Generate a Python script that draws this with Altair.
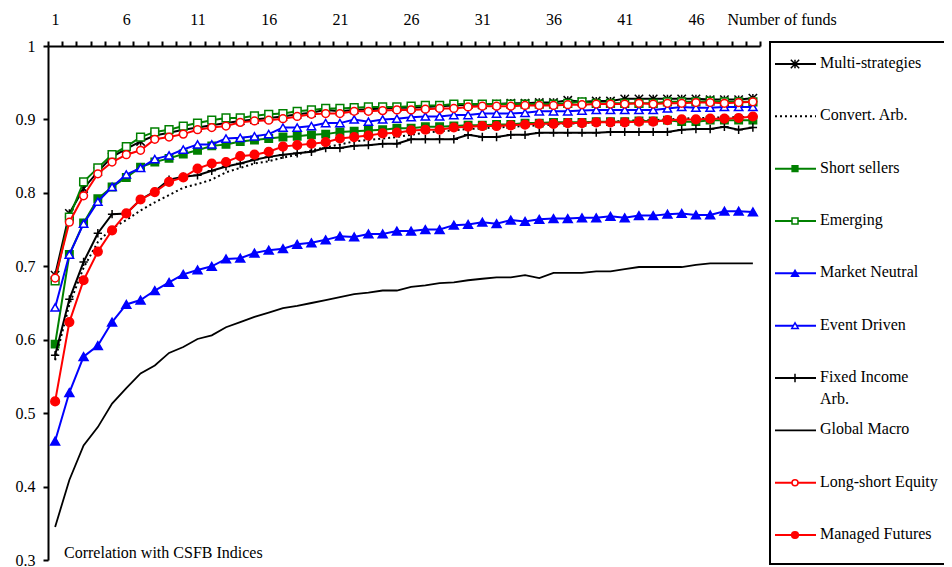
import altair as alt
import pandas as pd

funds = list(range(1, 51))

multi = [0.688, 0.772, 0.806, 0.829, 0.849, 0.860, 0.870, 0.878, 0.882, 0.886,
         0.889, 0.892, 0.895, 0.898, 0.900, 0.902, 0.904, 0.907, 0.909, 0.913,
         0.911, 0.913, 0.914, 0.915, 0.916, 0.916, 0.917, 0.918, 0.919, 0.920,
         0.920, 0.921, 0.922, 0.922, 0.923, 0.923, 0.926, 0.924, 0.925, 0.925,
         0.928, 0.928, 0.928, 0.928, 0.928, 0.928, 0.927, 0.927, 0.927, 0.929]
convert = [0.572, 0.648, 0.698, 0.733, 0.752, 0.763, 0.776, 0.787, 0.797, 0.807,
           0.812, 0.818, 0.828, 0.834, 0.840, 0.843, 0.848, 0.852, 0.858, 0.862,
           0.866, 0.870, 0.872, 0.874, 0.876, 0.879, 0.882, 0.884, 0.885, 0.887,
           0.888, 0.889, 0.890, 0.891, 0.892, 0.893, 0.894, 0.895, 0.896, 0.897,
           0.898, 0.899, 0.899, 0.900, 0.901, 0.902, 0.902, 0.903, 0.903, 0.904]
short_sellers = [0.594, 0.716, 0.759, 0.792, 0.808, 0.821, 0.835, 0.842, 0.847, 0.853,
                 0.858, 0.864, 0.866, 0.870, 0.872, 0.874, 0.876, 0.877, 0.879, 0.880,
                 0.883, 0.884, 0.885, 0.886, 0.888, 0.888, 0.890, 0.890, 0.891, 0.892,
                 0.892, 0.893, 0.893, 0.895, 0.895, 0.896, 0.896, 0.896, 0.897, 0.897,
                 0.897, 0.898, 0.898, 0.899, 0.897, 0.897, 0.899, 0.899, 0.899, 0.899]
emerging = [0.680, 0.767, 0.815, 0.834, 0.852, 0.863, 0.876, 0.883, 0.886, 0.891,
            0.895, 0.899, 0.902, 0.902, 0.905, 0.907, 0.908, 0.911, 0.913, 0.915,
            0.915, 0.916, 0.917, 0.917, 0.917, 0.918, 0.919, 0.919, 0.921, 0.921,
            0.921, 0.921, 0.921, 0.921, 0.921, 0.921, 0.922, 0.924, 0.922, 0.922,
            0.922, 0.922, 0.922, 0.924, 0.924, 0.924, 0.925, 0.924, 0.924, 0.924]
market_neutral = [0.462, 0.528, 0.577, 0.592, 0.624, 0.648, 0.654, 0.667, 0.678, 0.689,
                  0.695, 0.700, 0.710, 0.711, 0.718, 0.722, 0.724, 0.730, 0.732, 0.736,
                  0.741, 0.740, 0.744, 0.744, 0.748, 0.748, 0.750, 0.750, 0.756, 0.757,
                  0.760, 0.758, 0.763, 0.761, 0.764, 0.765, 0.765, 0.766, 0.766, 0.768,
                  0.766, 0.769, 0.769, 0.771, 0.772, 0.770, 0.770, 0.775, 0.775, 0.774]
event_driven = [0.644, 0.716, 0.758, 0.788, 0.808, 0.825, 0.834, 0.846, 0.851, 0.859,
                0.866, 0.866, 0.874, 0.875, 0.877, 0.880, 0.889, 0.889, 0.891, 0.895,
                0.895, 0.900, 0.897, 0.900, 0.901, 0.903, 0.904, 0.904, 0.906, 0.906,
                0.908, 0.908, 0.908, 0.909, 0.911, 0.911, 0.911, 0.912, 0.913, 0.913,
                0.913, 0.913, 0.913, 0.915, 0.917, 0.916, 0.916, 0.917, 0.917, 0.917]
fixed_income = [0.579, 0.655, 0.706, 0.745, 0.771, 0.772, 0.791, 0.802, 0.818, 0.822,
                0.824, 0.830, 0.836, 0.840, 0.845, 0.849, 0.852, 0.854, 0.856, 0.861,
                0.861, 0.864, 0.865, 0.867, 0.867, 0.873, 0.873, 0.873, 0.873, 0.879,
                0.876, 0.876, 0.879, 0.879, 0.882, 0.882, 0.882, 0.882, 0.882, 0.883,
                0.883, 0.883, 0.883, 0.883, 0.886, 0.887, 0.887, 0.890, 0.886, 0.889]
global_macro = [0.345, 0.409, 0.456, 0.481, 0.513, 0.534, 0.554, 0.565, 0.582, 0.590,
                0.601, 0.606, 0.617, 0.624, 0.631, 0.637, 0.643, 0.646, 0.650, 0.654,
                0.658, 0.662, 0.664, 0.667, 0.667, 0.672, 0.674, 0.677, 0.678, 0.681,
                0.683, 0.685, 0.685, 0.688, 0.684, 0.691, 0.691, 0.691, 0.693, 0.693,
                0.696, 0.699, 0.699, 0.699, 0.699, 0.702, 0.704, 0.704, 0.704, 0.704]
long_short = [0.684, 0.760, 0.796, 0.826, 0.842, 0.852, 0.858, 0.873, 0.876, 0.880,
              0.886, 0.889, 0.891, 0.896, 0.898, 0.899, 0.901, 0.904, 0.907, 0.908,
              0.908, 0.911, 0.911, 0.912, 0.913, 0.913, 0.914, 0.915, 0.915, 0.917,
              0.918, 0.918, 0.918, 0.919, 0.919, 0.919, 0.920, 0.920, 0.921, 0.921,
              0.921, 0.922, 0.921, 0.922, 0.922, 0.923, 0.923, 0.922, 0.923, 0.924]
managed_futures = [0.516, 0.624, 0.681, 0.720, 0.749, 0.772, 0.791, 0.801, 0.815, 0.821,
                   0.833, 0.840, 0.842, 0.850, 0.852, 0.856, 0.863, 0.865, 0.867, 0.869,
                   0.874, 0.876, 0.878, 0.881, 0.882, 0.885, 0.886, 0.886, 0.889, 0.890,
                   0.891, 0.891, 0.892, 0.893, 0.894, 0.894, 0.895, 0.895, 0.896, 0.896,
                   0.896, 0.897, 0.897, 0.899, 0.900, 0.900, 0.901, 0.901, 0.902, 0.904]

series_names = ["Multi-strategies", "Convert. Arb.", "Short sellers", "Emerging",
                "Market Neutral", "Event Driven", "Fixed Income Arb.", "Global Macro",
                "Long-short Equity", "Managed Futures"]
legend_labels = ["Multi-strategies", "Convert. Arb.", "Short sellers", "Emerging",
                 "Market Neutral", "Event Driven", "Fixed Income\nArb.", "Global Macro",
                 "Long-short Equity", "Managed Futures"]
series_values = [multi, convert, short_sellers, emerging, market_neutral, event_driven,
                 fixed_income, global_macro, long_short, managed_futures]
y_ticks = [0.3, 0.4, 0.5, 0.6, 0.7, 0.8, 0.9, 1.0]
x_ticks = [k - 0.5 for k in range(1, 52)]

ASTER = "M-1,-1L1,1M-1,1L1,-1M0,-1L0,1"
PLUS = "M-1,0L1,0M0,-1L0,1"
GREEN = "#008000"
BLUE = "#0000ff"
RED = "#ff0000"
BLACK = "#000000"

# styles per series: colour, line width, dash, marker shape, marker fill, marker size
styles = [
    dict(color=BLACK, width=2, dash=None, shape=ASTER, fill=None, size=70),
    dict(color=BLACK, width=2, dash=[2, 3], shape=None, fill=None, size=0),
    dict(color=GREEN, width=2, dash=None, shape="square", fill=GREEN, size=55),
    dict(color=GREEN, width=2, dash=None, shape="square", fill="white", size=60),
    dict(color=BLUE, width=2, dash=None, shape="triangle-up", fill=BLUE, size=80),
    dict(color=BLUE, width=2, dash=None, shape="triangle-up", fill="white", size=70),
    dict(color=BLACK, width=2, dash=None, shape=PLUS, fill=None, size=70),
    dict(color=BLACK, width=1.8, dash=None, shape=None, fill=None, size=0),
    dict(color=RED, width=2, dash=None, shape="circle", fill="white", size=60),
    dict(color=RED, width=2, dash=None, shape="circle", fill=RED, size=75),
]

FONT = "Liberation Serif"

x_scale = alt.Scale(domain=[0.5, 50.5], nice=False, zero=False)
y_scale = alt.Scale(domain=[0.3, 1.0], nice=False, zero=False)

x_axis = alt.Axis(orient="top", values=x_ticks, grid=False, ticks=True,
                  labelExpr="((datum.value - 0.5) % 5 == 0 && datum.value < 46) ? toString(datum.value + 0.5) : ''",
                  labelOffset=7.12, labelOverlap=False, labelFlush=False,
                  labelPadding=14, tickSize=5, tickWidth=2, domainWidth=2,
                  domainColor=BLACK, tickColor=BLACK,
                  title="Number of funds", titleX=679, titleY=-27, titleAlign="left",
                  titleBaseline="middle", titleAnchor="start")
y_axis = alt.Axis(values=y_ticks, grid=False, format="~g", tickSize=5, tickWidth=2,
                  domainWidth=2, domainColor=BLACK, tickColor=BLACK, labelPadding=8,
                  title=None, labelFlush=False, labelOverlap=False)

main_layers = []
for name, vals, st in zip(series_names, series_values, styles):
    df = pd.DataFrame({"funds": funds, "corr": vals, "series": name})
    base = alt.Chart(df).encode(
        x=alt.X("funds:Q", scale=x_scale, axis=x_axis),
        y=alt.Y("corr:Q", scale=y_scale, axis=y_axis),
    )
    line_kw = dict(color=st["color"], strokeWidth=st["width"])
    if st["dash"]:
        line_kw["strokeDash"] = st["dash"]
    main_layers.append(base.mark_line(**line_kw))
    if st["shape"]:
        if st["fill"] is None:
            pt = base.mark_point(shape=st["shape"], filled=False, stroke=st["color"],
                                 strokeWidth=1.5, size=st["size"], opacity=1)
        else:
            pt = base.mark_point(shape=st["shape"], filled=True, fill=st["fill"],
                                 stroke=st["color"], strokeWidth=1.5, size=st["size"],
                                 opacity=1)
        main_layers.append(pt)

# legend drawn as marks
leg_y = alt.Scale(domain=[0, 9], range=[18, 489])
one = pd.DataFrame({"a": [0]})
legend_layers = [
    alt.Chart(one).mark_rect(fillOpacity=0, stroke=BLACK, strokeWidth=2).encode(
        x=alt.value(722), x2=alt.value(960), y=alt.value(-4), y2=alt.value(518)),
    alt.Chart(one).mark_text(font=FONT, fontSize=16, align="left", baseline="middle",
                             color=BLACK).encode(
        x=alt.value(16), y=alt.value(507), text=alt.value("Correlation with CSFB Indices")),
]
for i, (lab, st) in enumerate(zip(legend_labels, styles)):
    ldf = pd.DataFrame({"pos": [i], "label": [lab]})
    lb = alt.Chart(ldf).encode(y=alt.Y("pos:Q", scale=leg_y, axis=None))
    rk = dict(color=st["color"], strokeWidth=st["width"])
    if st["dash"]:
        rk["strokeDash"] = st["dash"]
    legend_layers.append(lb.mark_rule(**rk).encode(x=alt.value(727), x2=alt.value(768)))
    if st["shape"]:
        if st["fill"] is None:
            lp = lb.mark_point(shape=st["shape"], filled=False, stroke=st["color"],
                               strokeWidth=1.5, size=st["size"], opacity=1)
        else:
            lp = lb.mark_point(shape=st["shape"], filled=True, fill=st["fill"],
                               stroke=st["color"], strokeWidth=1.5, size=st["size"] * 0.6,
                               opacity=1)
        legend_layers.append(lp.encode(x=alt.value(747)))
    legend_layers.append(
        lb.mark_text(font=FONT, fontSize=16, align="left", baseline="top", dy=-9,
                     lineBreak="\n", lineHeight=22, color=BLACK)
        .encode(x=alt.value(772), text="label:N"))

chart = alt.layer(alt.layer(*main_layers), alt.layer(*legend_layers)).resolve_scale(
    x="independent", y="independent"
).properties(
    width=712, height=514,
    autosize=alt.AutoSizeParams(type="none"),
    padding={"left": 40, "top": 38, "right": 184, "bottom": 11},
).configure_view(stroke=None).configure_axis(
    labelFont=FONT, labelFontSize=16, labelColor=BLACK,
    titleFont=FONT, titleFontSize=16, titleFontWeight="normal", titleColor=BLACK,
)

chart.save("out.html", embed_options={"renderer": "svg", "actions": False})
